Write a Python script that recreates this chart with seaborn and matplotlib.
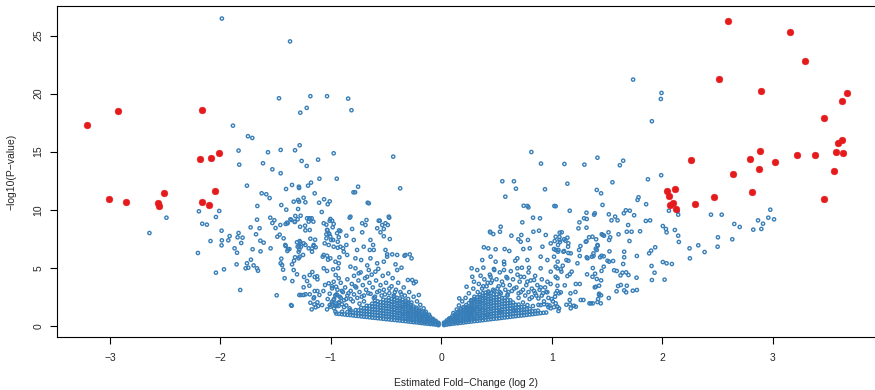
import numpy as np
import pandas as pd
import matplotlib
matplotlib.use("Agg")
import matplotlib.pyplot as plt
import seaborn as sns

sns.set_style("ticks")
plt.rcParams['font.family'] = ['Liberation Sans', 'DejaVu Sans']

BLUE = "#377EB8"
RED = "#E41A1C"

# significant genes (red)
red_fc = [-3.204, -2.928, -2.167, -2.188, -2.085, -2.01, -3.005, -2.856, -2.566, -2.551,
          -2.511, -2.164, -2.107, -2.049,
          2.593, 3.158, 3.297, 2.514, 2.892, 3.672, 3.626, 3.466, 3.629, 3.596,
          2.889, 2.795, 2.257, 3.025, 3.221, 3.385, 3.578, 3.638, 2.874, 2.641,
          3.557, 2.043, 2.115, 2.058, 2.811, 2.472, 3.469, 2.07, 2.1, 2.121, 2.299]
red_logp = [17.3, 18.48, 18.6, 14.34, 14.48, 14.86, 10.95, 10.64, 10.55, 10.34,
            11.44, 10.69, 10.43, 11.61,
            26.29, 25.32, 22.84, 21.29, 20.23, 20.03, 19.4, 17.9, 16.03, 15.78,
            15.09, 14.37, 14.31, 14.14, 14.69, 14.69, 14.97, 14.86, 13.51, 13.08,
            13.36, 11.59, 11.78, 11.15, 11.55, 11.07, 10.95, 10.41, 10.6, 10.09, 10.52]

# scattered genes, negative fold change
left_pts = [
    (-1.986, 26.47), (-1.369, 24.5), (-1.469, 19.6), (-1.886, 17.24), (-1.75, 16.33),
    (-1.711, 16.18), (-1.835, 15.09), (-1.569, 14.95), (-1.454, 15.15), (-1.324, 15.12),
    (-1.829, 13.88), (-1.614, 14.0), (-1.529, 13.48), (-1.454, 13.14), (-1.759, 12.07),
    (-1.626, 11.41), (-1.584, 11.33), (-1.405, 11.78), (-1.351, 12.13), (-1.282, 15.55),
    (-1.276, 18.36), (-1.554, 11.0), (-1.185, 19.78), (-1.034, 19.78), (-0.843, 19.57),
    (-1.218, 18.77), (-0.813, 18.57), (-0.974, 14.86), (-0.435, 14.57), (-1.264, 14.2),
    (-1.218, 13.77), (-1.115, 14.31), (-1.103, 12.67), (-0.946, 12.67), (-1.179, 12.33),
    (-1.289, 11.98), (-1.206, 12.07), (-0.753, 11.98), (-0.372, 11.84), (-0.795, 11.5),
    (-0.78, 11.5), (-1.146, 11.41), (-1.246, 11.03), (-1.061, 10.9), (-1.287, 11.87),
    (-1.448, 10.4), (-1.287, 10.69), (-1.23, 10.64), (-1.296, 10.06), (-1.106, 10.6),
    (-1.01, 10.72), (-1.028, 10.47), (-1.082, 9.8), (-1.273, 9.48), (-1.194, 9.26),
    (-1.173, 9.26), (-1.004, 9.2), (-0.666, 10.6), (-0.656, 10.55),
    (-2.488, 9.31), (-2.642, 7.99), (-2.203, 6.27), (-2.194, 9.86), (-2.164, 8.79),
    (-2.122, 8.71), (-2.04, 9.37), (-2.01, 9.89), (-2.089, 7.3), (-2.04, 4.57),
    (-1.967, 4.86), (-1.986, 7.36), (-1.989, 6.93), (-1.989, 8.19), (-1.928, 7.36),
    (-1.916, 7.73), (-1.871, 6.67), (-1.849, 6.29), (-1.853, 5.29), (-1.844, 7.62),
    (-1.835, 7.99), (-1.799, 7.59), (-1.811, 7.13), (-1.82, 3.08), (-1.771, 4.95),
    (-1.747, 5.0), (-1.726, 8.48), (-1.723, 5.69), (-1.708, 6.59), (-1.699, 5.2),
    (-1.677, 7.88), (-1.668, 9.14), (-1.665, 10.32), (-1.645, 8.4), (-1.636, 6.41),
    (-1.668, 4.95), (-1.659, 4.74), (-1.638, 7.33), (-1.608, 7.16), (-1.548, 9.31),
    (-1.529, 8.85), (-1.511, 9.09), (-1.5, 8.42), (-1.545, 6.67), (-1.49, 2.62),
    (-1.484, 7.67), (-1.463, 7.85), (-1.403, 10.0), (-1.391, 8.83), (-1.448, 5.78),
    (-1.454, 5.38), (-1.432, 4.83), (-1.441, 5.23), (-1.418, 4.09), (-1.348, 3.85),
    (-1.336, 4.8), (-1.351, 5.29), (-1.333, 5.6), (-1.409, 6.87), (-1.393, 6.44),
    (-1.387, 6.59), (-1.354, 1.72), (-1.336, 10.69), (-1.296, 10.84), (-1.321, 9.46),
    (-1.327, 8.94), (-1.3, 9.17), (-1.306, 7.19), (-1.287, 6.87), (-1.285, 6.55),
    (-1.285, 2.65), (-1.282, 7.3), (-1.291, 5.81), (-1.759, 5.38),
    (-1.409, 8.77), (-1.357, 9.11), (-1.324, 8.97), (-1.278, 8.53), (-1.233, 8.62),
    (-1.191, 9.2), (-1.158, 8.97), (-1.23, 8.22), (-1.191, 8.25), (-1.04, 8.71),
    (-1.01, 9.05), (-0.988, 9.05), (-0.974, 8.77), (-0.925, 8.22), (-0.983, 8.48),
    (-1.031, 8.25), (-1.04, 7.88), (-1.013, 7.9), (-1.276, 7.19), (-1.27, 6.81),
    (-1.23, 6.96), (-1.185, 7.5), (-1.142, 7.41), (-1.155, 6.87), (-1.137, 6.76),
    (-1.2, 6.67), (-1.17, 6.67), (-1.291, 6.38), (-1.282, 5.95), (-1.324, 5.9),
    (-1.251, 6.1), (-1.375, 6.61), (-1.306, 4.43), (-1.36, 1.78), (-1.242, 4.2),
    (-1.215, 3.85), (-1.191, 4.37), (-1.167, 4.63), (-1.146, 4.2), (-1.124, 4.26),
    (-1.121, 4.0), (-1.194, 3.45), (-1.246, 3.31), (-1.27, 2.65), (-1.228, 2.71),
    (-1.191, 2.71), (-1.146, 2.99), (-1.121, 2.99), (-1.103, 2.65), (-1.151, 2.45),
    (-1.185, 1.98), (-1.149, 1.84), (-1.115, 1.7), (-1.121, 2.02), (-1.173, 1.41),
    (-1.137, 1.59), (-1.064, 8.83), (-1.034, 8.25), (-1.019, 7.97), (-1.04, 7.53),
    (-1.004, 7.67), (-0.979, 7.39), (-0.943, 7.97), (-0.928, 7.62), (-1.019, 6.96),
    (-1.055, 7.1), (-0.974, 6.81), (-0.937, 6.72), (-1.073, 5.95), (-1.034, 6.03),
    (-1.025, 5.69), (-1.004, 5.81), (-0.958, 5.52), (-0.922, 5.9), (-1.064, 4.95),
    (-1.034, 4.72), (-0.979, 4.86), (-0.934, 4.95), (-0.956, 4.37), (-0.928, 4.09),
    (-0.974, 3.79), (-1.019, 3.66), (-1.052, 3.51), (-0.988, 3.22), (-0.952, 3.36),
    (-1.067, 2.99), (-1.01, 2.76), (-0.943, 2.65), (-0.974, 2.22), (-1.028, 2.3),
    (-0.922, 2.02), (-1.01, 1.78), (-0.947, 1.72), (-1.034, 1.41), (-0.958, 1.21),
    (-0.829, 9.31), (-0.677, 9.11), (-0.686, 8.68), (-0.557, 9.05), (-0.505, 8.83),
    (-0.484, 8.68), (-0.471, 9.31), (-0.58, 8.4), (-0.52, 8.34), (-0.55, 8.05),
    (-0.52, 7.71), (-0.466, 7.47), (-0.913, 8.16), (-0.807, 8.34), (-0.716, 8.05),
    (-0.859, 7.76), (-0.792, 7.39), (-0.641, 7.39), (-0.617, 6.96), (-0.647, 6.53),
    (-0.611, 6.53), (-0.702, 6.81), (-0.762, 6.53), (-0.859, 6.96), (-0.889, 6.67),
    (-0.505, 6.53), (-0.49, 6.15), (-0.444, 6.15), (-0.399, 6.1), (-0.333, 6.03),
    (-0.285, 6.15), (-0.269, 5.81), (-0.36, 5.0), (-0.302, 3.94), (-0.23, 3.79),
    (-0.203, 2.65), (-0.822, 9.4), (-0.716, 8.83), (-0.566, 9.05), (-0.475, 9.4),
    (-0.535, 8.68), (-1.215, 9.26), (-1.2, 8.97), (-1.396, 8.88), (-1.366, 9.17),
    (-1.457, 8.68), (-1.427, 7.53), (-1.412, 6.96), (-1.246, 7.1), (-1.3, 6.81),
    (-1.155, 6.96), (-1.17, 6.38), (-1.064, 6.1), (-0.997, 7.39), (-0.937, 7.24),
    (-0.913, 6.81), (-0.883, 6.38), (-0.928, 5.38), (-0.852, 6.1), (-0.777, 5.81),
    (-0.777, 4.95), (-0.822, 5.09), (-0.725, 5.66), (-0.641, 5.81), (-0.656, 4.8),
    (-0.596, 4.66), (-0.747, 4.52), (-0.671, 4.22), (-0.58, 5.38), (-0.52, 5.52),
    (-0.49, 5.95), (-0.414, 5.29), (-0.399, 4.8), (-0.324, 6.1), (-0.263, 3.94),
    (-0.248, 3.66), (-1.246, 2.65), (-1.155, 2.36), (-1.079, 1.78), (-1.004, 1.64),
    (-0.898, 1.21), (-0.822, 1.35),
]

# scattered genes, positive fold change
right_pts = [
    (0.816, 14.97), (0.903, 13.97), (1.115, 13.94), (1.296, 13.88), (1.414, 14.48),
    (0.553, 12.45), (0.658, 12.45), (0.676, 11.81), (0.939, 11.76), (1.142, 12.24),
    (1.408, 11.7), (0.58, 11.12), (1.737, 21.21), (1.994, 20.06), (1.988, 19.54),
    (1.907, 17.62), (1.647, 14.22), (1.617, 13.83), (1.55, 12.36), (1.871, 12.62),
    (1.991, 12.97), (1.447, 11.41), (1.786, 11.07), (1.777, 10.84), (1.46, 10.41),
    (1.855, 10.47), (1.315, 9.74), (1.39, 9.69), (1.384, 9.57), (1.517, 9.6),
    (1.574, 9.4), (1.671, 9.95), (1.707, 9.91), (1.653, 9.69), (1.746, 9.52),
    (1.317, 9.2), (1.541, 9.08), (1.596, 9.08), (1.852, 9.03), (1.891, 9.08),
    (2.061, 9.91), (2.14, 9.86), (2.145, 9.57), (2.442, 9.57), (2.539, 9.57),
    (2.979, 10.0), (3.013, 9.17), (2.961, 9.31), (2.913, 8.79), (2.868, 9.08),
    (2.653, 8.77), (2.702, 8.51), (2.825, 8.28), (2.898, 8.34), (2.635, 7.45),
    (2.505, 7.62), (2.502, 6.81), (2.327, 6.93), (2.248, 6.67), (2.384, 6.35),
    (2.251, 5.81), (2.006, 8.59), (2.034, 8.34), (2.04, 8.05), (2.115, 8.25),
    (2.145, 7.76), (2.151, 7.22), (2.006, 5.49), (2.04, 5.38), (2.088, 5.32),
    (2.022, 3.97), (1.907, 3.94), (1.904, 5.15), (1.931, 4.57), (1.9, 6.47),
    (1.882, 6.24), (1.937, 6.76), (1.768, 4.14), (1.771, 3.08), (1.734, 3.02),
    (1.68, 8.1), (1.723, 8.1), (1.8, 8.14), (1.692, 8.68), (1.605, 7.88),
    (1.704, 7.3), (1.514, 8.05), (1.529, 7.62), (1.52, 7.39), (1.453, 7.88),
    (1.474, 7.76), (1.414, 6.96), (1.399, 6.64), (1.378, 6.24), (1.771, 6.01),
    (1.656, 6.38), (1.656, 5.9), (1.647, 5.32), (1.523, 6.41), (1.438, 5.9),
    (1.451, 6.03), (1.471, 5.98), (1.52, 5.52), (1.556, 5.58), (1.372, 4.97),
    (1.471, 5.09), (1.451, 4.72), (1.393, 4.48), (1.408, 4.03), (1.447, 3.91),
    (1.565, 4.78), (1.589, 4.72), (1.623, 4.34), (1.641, 4.57), (1.674, 4.6),
    (1.695, 4.37), (1.601, 3.42), (1.626, 3.51), (1.68, 3.45), (1.587, 2.97),
    (1.656, 3.05), (1.674, 2.88), (1.39, 3.31), (1.429, 3.45), (1.429, 2.76),
    (1.447, 2.62), (1.517, 2.39), (1.342, 1.93), (1.372, 1.93), (1.414, 2.04),
    (1.42, 2.3), (1.263, 2.22), (1.163, 9.91), (1.036, 10.3), (1.251, 8.91),
    (1.242, 8.39), (1.072, 8.02), (1.07, 7.65), (1.036, 7.67), (1.124, 7.33),
    (1.151, 7.1), (1.112, 7.45), (1.338, 7.62), (1.369, 7.67), (1.402, 7.45),
    (1.417, 6.9), (1.315, 7.28), (1.462, 7.82), (1.036, 6.53), (1.061, 6.53),
    (1.106, 6.38), (1.151, 6.27), (1.26, 6.87), (1.248, 6.53), (1.254, 6.01),
    (1.317, 5.9), (1.363, 5.95), (1.505, 5.6), (1.054, 5.52), (1.1, 5.17),
    (1.151, 5.6), (1.082, 4.86), (1.036, 5.09), (1.088, 4.66), (1.181, 4.66),
    (1.163, 4.43), (1.142, 4.28), (1.32, 4.43), (1.036, 4.22), (1.052, 3.45),
    (1.036, 2.79), (1.118, 3.48), (1.218, 3.6), (1.254, 3.6), (1.082, 2.88),
    (1.17, 2.79), (1.215, 2.91), (1.163, 2.22), (1.166, 1.84), (1.052, 1.64),
    (1.061, 1.27), (1.133, 1.81), (1.202, 1.72), (1.172, 1.5), (0.746, 10.34),
    (0.789, 10.2), (1.024, 10.32), (0.78, 10.32), (1.293, 9.26), (1.315, 8.45),
    (1.091, 8.05), (1.142, 7.59), (0.444, 8.05), (0.698, 7.45), (0.719, 7.24),
    (0.785, 7.39), (0.834, 8.1), (0.885, 8.19), (0.946, 7.82), (0.991, 7.1),
    (1.027, 7.3), (1.075, 7.22), (1.112, 6.44), (1.148, 6.81), (1.172, 6.24),
    (1.133, 5.66), (1.233, 5.38), (1.378, 6.01), (1.324, 5.81), (1.408, 6.53),
    (1.308, 7.24), (1.369, 4.22), (1.399, 3.36), (1.429, 2.65), (1.444, 1.93),
    (1.287, 2.22), (1.354, 1.93), (1.218, 1.64), (1.066, 1.5),
    (0.831, 9.31), (0.894, 9.26), (0.734, 8.91), (0.441, 8.1), (0.471, 7.9),
    (0.531, 8.1), (0.538, 8.53), (0.635, 7.76), (0.725, 7.82), (0.386, 6.76),
    (0.426, 6.67), (0.492, 6.59), (0.574, 6.61), (0.616, 6.44), (0.743, 6.61),
    (0.801, 6.67), (0.916, 6.81), (1.021, 6.61), (1.057, 6.96), (1.07, 7.39),
    (1.057, 6.38), (0.371, 5.66), (0.447, 5.95), (0.492, 5.52), (0.568, 5.52),
    (0.689, 5.81), (0.78, 5.66), (0.9, 5.95), (0.961, 5.66), (1.021, 5.95),
    (0.275, 4.95), (0.326, 4.8), (0.381, 5.0), (0.477, 4.89), (0.568, 4.8),
    (0.689, 4.95), (0.794, 5.0), (0.9, 4.95), (0.991, 4.66), (1.052, 4.95),
    (0.281, 4.22), (0.356, 4.31), (0.229, 3.36), (0.163, 2.36), (0.296, 3.79),
    (0.447, 4.22), (0.598, 4.09), (0.719, 4.22), (0.84, 3.94), (0.961, 3.79),
    (1.052, 4.09), (1.066, 2.79), (1.036, 1.93), (0.991, 1.5), (0.9, 1.78),
    (0.78, 1.78), (0.658, 1.35), (0.538, 1.21), (0.417, 0.92),
]

# scattered points inside the volcano, negative side
left_core = [
    (-0.07, 0.5), (-0.11, 0.95), (-0.14, 1.2), (-0.16, 1.5), (-0.19, 1.8), (-0.22, 2.1),
    (-0.25, 2.5), (-0.27, 2.0), (-0.29, 2.9), (-0.30, 2.3), (-0.33, 2.6), (-0.34, 3.3),
    (-0.37, 2.9), (-0.39, 3.7), (-0.41, 3.1), (-0.43, 2.6), (-0.44, 4.1), (-0.45, 3.4),
    (-0.47, 2.8), (-0.48, 4.5), (-0.50, 3.7), (-0.52, 3.1), (-0.53, 4.3), (-0.54, 2.6),
    (-0.55, 3.5), (-0.57, 4.9), (-0.58, 2.9), (-0.59, 3.9), (-0.60, 2.5), (-0.62, 3.3),
    (-0.63, 4.4), (-0.64, 2.75), (-0.65, 3.7), (-0.67, 5.2), (-0.68, 3.1), (-0.69, 4.1),
    (-0.70, 2.6), (-0.71, 3.5), (-0.73, 4.6), (-0.74, 2.9), (-0.75, 3.9), (-0.76, 2.4),
    (-0.77, 3.3), (-0.79, 4.3), (-0.79, 2.7), (-0.81, 3.6), (-0.82, 2.3), (-0.82, 3.0),
    (-0.85, 2.6), (-0.85, 4.0), (-0.87, 3.3), (-0.88, 2.2), (-0.89, 2.9), (-0.91, 2.4),
    (-0.91, 3.7), (-0.93, 2.0), (-0.94, 3.1), (-0.95, 2.7), (-0.96, 1.7), (-0.97, 2.3),
    (-0.99, 3.4), (-0.86, 1.75), (-0.90, 1.85), (-0.95, 1.9), (-0.99, 2.05),
    (-0.36, 2.7), (-0.42, 2.9), (-0.47, 3.2), (-0.51, 2.7), (-0.56, 3.0), (-0.61, 2.4),
    (-0.66, 2.8), (-0.72, 2.5), (-0.78, 3.4), (-0.84, 2.8), (-0.90, 3.0), (-0.96, 2.6),
    (-0.60, 2.2), (-0.70, 2.1), (-0.80, 2.1), (-0.86, 2.3), (-0.92, 2.5), (-0.74, 1.9),
    (-0.83, 1.5), (-0.88, 1.6), (-0.93, 1.7), (-0.97, 1.5), (-0.99, 1.9),
]

# scattered points inside the volcano, positive side
right_core = [
    (0.07, 0.6), (0.11, 1.1), (0.14, 1.4), (0.16, 1.75), (0.19, 2.1), (0.22, 2.4),
    (0.25, 2.8), (0.27, 2.2), (0.29, 3.2), (0.30, 2.5), (0.33, 2.9), (0.34, 3.6),
    (0.37, 3.2), (0.39, 4.0), (0.41, 3.4), (0.43, 2.9), (0.44, 4.4), (0.45, 3.7),
    (0.47, 3.1), (0.48, 4.8), (0.50, 4.0), (0.52, 3.4), (0.53, 4.6), (0.54, 2.8),
    (0.55, 3.8), (0.57, 5.3), (0.58, 3.1), (0.59, 4.2), (0.60, 2.7), (0.62, 3.5),
    (0.63, 4.7), (0.64, 3.0), (0.65, 4.0), (0.67, 5.6), (0.68, 3.3), (0.69, 4.4),
    (0.70, 2.8), (0.71, 3.8), (0.73, 5.0), (0.74, 3.1), (0.75, 4.2), (0.76, 2.6),
    (0.77, 3.5), (0.79, 4.6), (0.79, 2.9), (0.81, 3.9), (0.82, 2.45), (0.82, 3.2),
    (0.85, 2.8), (0.85, 4.3), (0.87, 3.5), (0.88, 2.35), (0.89, 3.1), (0.91, 2.6),
    (0.91, 4.0), (0.93, 2.1), (0.94, 3.3), (0.95, 2.9), (0.96, 1.8), (0.97, 2.4),
    (0.99, 3.6), (1.01, 2.1), (1.03, 2.5), (1.05, 3.0), (0.98, 1.75), (1.02, 1.6),
    (0.38, 3.4), (0.42, 3.7), (0.46, 3.9), (0.51, 3.2), (0.56, 3.5), (0.61, 2.9),
    (0.66, 3.2), (0.72, 2.9), (0.78, 3.8), (0.84, 3.0), (0.90, 3.3), (0.96, 2.9),
    (0.60, 2.6), (0.70, 2.4), (0.80, 2.3), (0.86, 2.6), (0.92, 2.8), (0.74, 2.0),
    (0.83, 1.7), (0.88, 1.8), (0.93, 1.85), (0.97, 1.6), (1.00, 2.3), (0.53, 2.9),
    (0.48, 3.0),
]

# solid band at the bottom of the volcano: fold change -> -log10 p values
left_band = [
    (-0.025, [0.05, 0.15, 0.25]), (-0.05, [0.1, 0.2, 0.31, 0.42]),
    (-0.075, [0.13, 0.25, 0.37, 0.48, 0.59]), (-0.10, [0.15, 0.27, 0.39, 0.51, 0.63, 0.75]),
    (-0.125, [0.18, 0.3, 0.42, 0.54, 0.66, 0.78, 0.9]),
    (-0.15, [0.2, 0.32, 0.45, 0.58, 0.71, 0.84, 0.97, 1.08]),
    (-0.175, [0.23, 0.36, 0.5, 0.64, 0.78, 0.92, 1.06, 1.2]),
    (-0.20, [0.26, 0.4, 0.54, 0.68, 0.82, 0.96, 1.1, 1.25, 1.4]),
    (-0.225, [0.29, 0.45, 0.61, 0.77, 0.93, 1.09, 1.25, 1.41, 1.55]),
    (-0.25, [0.31, 0.47, 0.63, 0.8, 0.97, 1.14, 1.31, 1.48, 1.65]),
    (-0.275, [0.34, 0.52, 0.7, 0.88, 1.06, 1.24, 1.42, 1.6, 1.8]),
    (-0.30, [0.37, 0.55, 0.73, 0.91, 1.1, 1.29, 1.48, 1.67, 1.86, 2.0]),
    (-0.325, [0.4, 0.6, 0.8, 1.0, 1.2, 1.4, 1.6, 1.8, 2.0, 2.15]),
    (-0.35, [0.42, 0.62, 0.82, 1.02, 1.22, 1.42, 1.62, 1.82, 2.02, 2.25]),
    (-0.375, [0.45, 0.66, 0.87, 1.08, 1.29, 1.5, 1.71, 1.92, 2.13, 2.35]),
    (-0.40, [0.47, 0.68, 0.89, 1.1, 1.31, 1.52, 1.73, 1.94, 2.15, 2.4]),
    (-0.425, [0.5, 0.72, 0.94, 1.16, 1.38, 1.6, 1.82, 2.04, 2.26, 2.5]),
    (-0.45, [0.52, 0.74, 0.96, 1.18, 1.4, 1.62, 1.84, 2.06, 2.3]),
    (-0.475, [0.55, 0.78, 1.01, 1.24, 1.47, 1.7, 1.93, 2.16, 2.4]),
    (-0.50, [0.57, 0.8, 1.03, 1.26, 1.49, 1.72, 1.95, 2.2]),
    (-0.525, [0.6, 0.83, 1.06, 1.29, 1.52, 1.75, 1.98, 2.25]),
    (-0.55, [0.63, 0.86, 1.09, 1.32, 1.55, 1.78, 2.02]),
    (-0.575, [0.65, 0.89, 1.13, 1.37, 1.61, 1.85, 2.1]),
    (-0.60, [0.68, 0.92, 1.16, 1.4, 1.64, 1.88]),
    (-0.625, [0.7, 0.94, 1.18, 1.42, 1.66, 1.9]),
    (-0.65, [0.73, 0.97, 1.21, 1.45, 1.7]), (-0.675, [0.76, 1.0, 1.24, 1.48, 1.72]),
    (-0.70, [0.78, 1.02, 1.26, 1.5]), (-0.725, [0.81, 1.05, 1.29, 1.55]),
    (-0.75, [0.84, 1.08, 1.32]), (-0.775, [0.86, 1.1, 1.35]), (-0.80, [0.89, 1.13]),
    (-0.825, [0.92, 1.16]), (-0.85, [0.94, 1.18]), (-0.875, [0.97]), (-0.90, [1.0]),
    (-0.925, [1.02]), (-0.95, [1.05]),
]
right_band = [
    (0.025, [0.06, 0.16, 0.27]), (0.05, [0.1, 0.21, 0.33, 0.45]),
    (0.075, [0.14, 0.26, 0.38, 0.5, 0.62]), (0.10, [0.17, 0.3, 0.43, 0.56, 0.69, 0.82]),
    (0.125, [0.2, 0.33, 0.46, 0.59, 0.72, 0.85, 0.98]),
    (0.15, [0.22, 0.36, 0.5, 0.64, 0.78, 0.92, 1.06, 1.2]),
    (0.175, [0.25, 0.4, 0.55, 0.7, 0.85, 1.0, 1.15, 1.3, 1.42]),
    (0.20, [0.28, 0.43, 0.58, 0.73, 0.88, 1.03, 1.18, 1.33, 1.48, 1.6]),
    (0.225, [0.31, 0.47, 0.63, 0.79, 0.95, 1.11, 1.27, 1.43, 1.59, 1.78]),
    (0.25, [0.34, 0.51, 0.68, 0.85, 1.02, 1.19, 1.36, 1.53, 1.7, 1.95]),
    (0.275, [0.37, 0.55, 0.73, 0.91, 1.09, 1.27, 1.45, 1.63, 1.81, 2.0, 2.15]),
    (0.30, [0.4, 0.59, 0.78, 0.97, 1.16, 1.35, 1.54, 1.73, 1.92, 2.11, 2.3]),
    (0.325, [0.42, 0.62, 0.82, 1.02, 1.22, 1.42, 1.62, 1.82, 2.02, 2.22, 2.45]),
    (0.35, [0.45, 0.65, 0.85, 1.05, 1.25, 1.45, 1.65, 1.85, 2.05, 2.25, 2.45, 2.65]),
    (0.375, [0.48, 0.69, 0.9, 1.11, 1.32, 1.53, 1.74, 1.95, 2.16, 2.37, 2.58, 2.8]),
    (0.40, [0.51, 0.72, 0.93, 1.14, 1.35, 1.56, 1.77, 1.98, 2.19, 2.4, 2.61, 2.85]),
    (0.425, [0.54, 0.76, 0.98, 1.2, 1.42, 1.64, 1.86, 2.08, 2.3, 2.52, 2.75, 2.95]),
    (0.45, [0.57, 0.79, 1.01, 1.23, 1.45, 1.67, 1.89, 2.11, 2.33, 2.55, 2.8]),
    (0.475, [0.6, 0.83, 1.06, 1.29, 1.52, 1.75, 1.98, 2.21, 2.44, 2.7]),
    (0.50, [0.62, 0.85, 1.08, 1.31, 1.54, 1.77, 2.0, 2.23, 2.46, 2.7]),
    (0.525, [0.65, 0.88, 1.11, 1.34, 1.57, 1.8, 2.03, 2.26, 2.5]),
    (0.55, [0.68, 0.92, 1.16, 1.4, 1.64, 1.88, 2.12, 2.4]),
    (0.575, [0.71, 0.95, 1.19, 1.43, 1.67, 1.91, 2.15, 2.4]),
    (0.60, [0.74, 0.98, 1.22, 1.46, 1.7, 1.94, 2.2]),
    (0.625, [0.77, 1.01, 1.25, 1.49, 1.73, 1.97, 2.2]),
    (0.65, [0.8, 1.04, 1.28, 1.52, 1.76, 2.0]), (0.675, [0.83, 1.07, 1.31, 1.55, 1.8]),
    (0.70, [0.86, 1.1, 1.34, 1.58, 1.82]), (0.725, [0.88, 1.12, 1.36, 1.6]),
    (0.75, [0.91, 1.15, 1.39, 1.62]), (0.775, [0.94, 1.18, 1.42]), (0.80, [0.97, 1.21, 1.45]),
    (0.825, [1.0, 1.24]), (0.85, [1.03, 1.27]), (0.875, [1.06, 1.3]), (0.90, [1.09]),
    (0.925, [1.12]), (0.95, [1.14]),
]

band_pts = [(fc, p) for fc, ps in left_band + right_band for p in ps]
blue = pd.DataFrame(left_pts + right_pts + left_core + right_core + band_pts,
                    columns=["fc", "logp"])
red = pd.DataFrame({"fc": red_fc, "logp": red_logp})

fig = plt.figure(figsize=(8.75, 3.9), dpi=100)
ax = fig.add_axes([0.0655, 0.135, 0.9335, 0.849])

sns.scatterplot(data=blue, x="fc", y="logp", ax=ax, s=5.5, marker="o",
                color=BLUE, edgecolor=BLUE, linewidth=1.0)
ax.collections[-1].set_facecolor("none")
sns.scatterplot(data=red, x="fc", y="logp", ax=ax, s=24, marker="o",
                color=RED, edgecolor=RED, linewidth=0.3)

ax.set_xlim(-3.476, 3.919)
ax.set_ylim(-1.0, 27.53)
ax.set_xticks([-3, -2, -1, 0, 1, 2, 3])
ax.set_yticks([0, 5, 10, 15, 20, 25])
ax.tick_params(axis="both", labelsize=7.5, length=5, width=0.8, color="black")
ax.tick_params(axis="x", pad=6)
ax.tick_params(axis="y", pad=5)
for lab in ax.get_yticklabels():
    lab.set_rotation(90)
    lab.set_va("center")

ax.set_xlabel("Estimated Fold\u2212Change (log 2)", fontsize=7.5, labelpad=11)
ax.set_ylabel("\u2212log10(P\u2212value)", fontsize=7.5, labelpad=12)

for sp in ax.spines.values():
    sp.set_linewidth(0.8)
    sp.set_color("black")
ax.spines["right"].set_visible(False)

fig.savefig("out.png", dpi=100)
